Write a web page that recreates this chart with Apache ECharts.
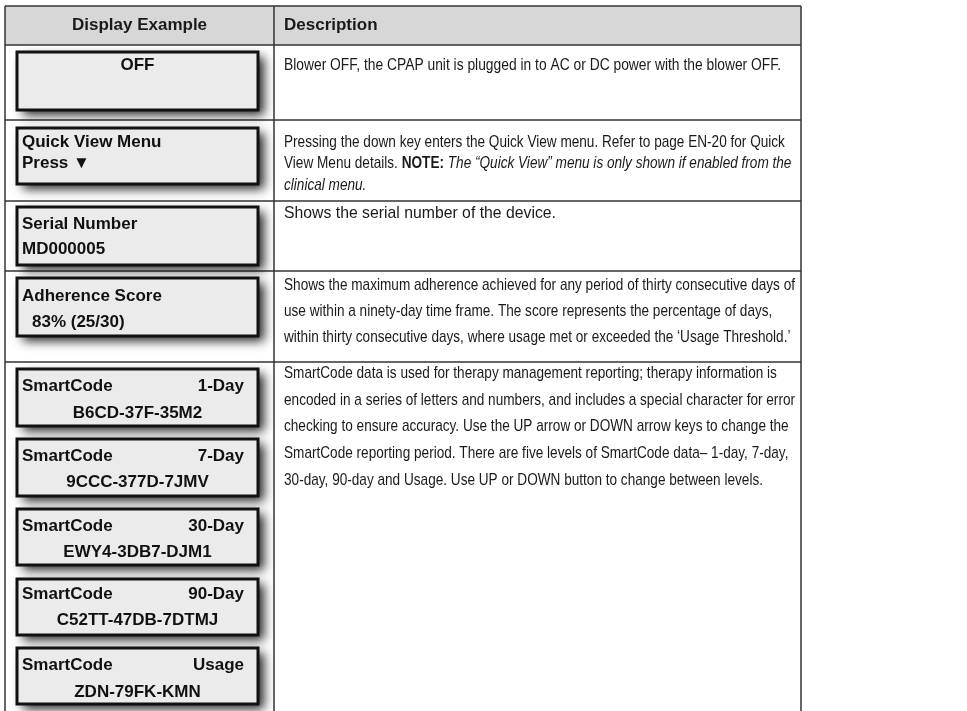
<!DOCTYPE html>
<html><head><meta charset="utf-8">
<script src="https://cdn.jsdelivr.net/npm/echarts@6/dist/echarts.min.js"></script>
<style>html,body{margin:0;padding:0;background:#fff}#c{width:967px;height:711px}</style>
</head><body><div id="c"></div><script>
// ---- data ----
const headers = ['Display Example', 'Description'];
const displayTitle = ['OFF', 'Quick View Menu', 'Serial Number', 'Adherence Score', 'SmartCode', 'SmartCode', 'SmartCode', 'SmartCode', 'SmartCode'];
const displayPeriod = ['', '', '', '', '1-Day', '7-Day', '30-Day', '90-Day', 'Usage'];
const displayValue = ['', 'Press \u25BC', 'MD000005', '83% (25/30)', 'B6CD-37F-35M2', '9CCC-377D-7JMV', 'EWY4-3DB7-DJM1', 'C52TT-47DB-7DTMJ', 'ZDN-79FK-KMN'];
const descriptionLines = [
  ['Blower OFF, the CPAP unit is plugged in to AC or DC power with the blower OFF.'],
  ['Pressing the down key enters the Quick View menu. Refer to page EN-20 for Quick',
   'View Menu details. {b|NOTE:} {i|The \u201CQuick View\u201D menu is only shown if enabled from the}',
   '{i|clinical menu.}'],
  ['Shows the serial number of the device.'],
  ['Shows the maximum adherence achieved for any period of thirty consecutive days of',
   'use within a ninety-day time frame. The score represents the percentage of days,',
   'within thirty consecutive days, where usage met or exceeded the \u2018Usage Threshold.\u2019'],
  ['SmartCode data is used for therapy management reporting; therapy information is',
   'encoded in a series of letters and numbers, and includes a special character for error',
   'checking to ensure accuracy. Use the UP arrow or DOWN arrow keys to change the',
   'SmartCode reporting period. There are five levels of SmartCode data\u2013 1-day, 7-day,',
   '30-day, 90-day and Usage. Use UP or DOWN button to change between levels.']
];

// ---- layout ----
const T = {left: 5, right: 801, divX: 274, top: 6, headBottom: 45, rowBottoms: [120, 201, 271, 362], bottom: 711};
const box = {x0: 17, x1: 258, textL: 22, textR: 244};
const boxTops = [52, 128, 207, 278, 369, 439, 509, 579, 648];
const boxBottoms = [110, 184, 265, 336, 426, 496, 565, 635, 704];
const boxLine1Y = [65, 142, 224, 296, 386, 456, 526, 594, 665];
const boxLine2Y = [null, 163, 249, 322, 413, 482, 552, 620, 692];
const valueAlign = ['left', 'left', 'left', 'indent', 'center', 'center', 'center', 'center', 'center'];
const descY = [[65], [142, 163, 185], [213], [285, 311, 337], [373, 400, 426, 453, 480]];
const descX = 284;
const singleLineEnd = {0: 781, 2: 556};

const FAM = '"Liberation Sans", Arial, Helvetica, sans-serif';
const DESC_SIZE = 17;
const ctx = document.createElement('canvas').getContext('2d');
ctx.font = DESC_SIZE + 'px ' + FAM;
const descScale = 511 / ctx.measureText(descriptionLines[3][0]).width;

const els = [];
els.push({type: 'rect', shape: {x: T.left, y: T.top, width: T.right - T.left, height: T.headBottom - T.top}, style: {fill: '#d7d7d7'}, z: 1});
const lineStyle = {stroke: '#333', lineWidth: 1.5};
function hline(y) { els.push({type: 'line', shape: {x1: T.left, y1: y, x2: T.right, y2: y}, style: lineStyle, z: 2}); }
function vline(x) { els.push({type: 'line', shape: {x1: x, y1: T.top, x2: x, y2: T.bottom}, style: lineStyle, z: 2}); }
hline(T.top); hline(T.headBottom); T.rowBottoms.forEach(hline);
vline(T.left); vline(T.divX); vline(T.right);

els.push({type: 'text', x: (T.left + T.divX) / 2, y: (T.top + T.headBottom) / 2, z: 6,
  style: {text: headers[0], font: 'bold 17px ' + FAM, fill: '#1a1a1a', align: 'center', verticalAlign: 'middle'}});
els.push({type: 'text', x: descX, y: (T.top + T.headBottom) / 2, z: 6,
  style: {text: headers[1], font: 'bold 17px ' + FAM, fill: '#1a1a1a', align: 'left', verticalAlign: 'middle'}});

const BOXFONT = 'bold 17px ' + FAM;
displayTitle.forEach((t, i) => {
  const shape = {x: box.x0, y: boxTops[i], width: box.x1 - box.x0, height: boxBottoms[i] - boxTops[i]};
  els.push({type: 'rect', z: 3, shape: shape,
    style: {fill: '#111', shadowBlur: 10, shadowColor: 'rgba(0,0,0,0.85)', shadowOffsetX: 6, shadowOffsetY: 5}});
  els.push({type: 'rect', z: 4, shape: shape, style: {fill: '#ebebeb', stroke: '#111', lineWidth: 3}});
  const centerX = (box.x0 + box.x1) / 2;
  if (!displayValue[i]) {
    els.push({type: 'text', x: centerX, y: boxLine1Y[i], z: 6, style: {text: t, font: BOXFONT, fill: '#111', align: 'center', verticalAlign: 'middle'}});
  } else {
    els.push({type: 'text', x: box.textL, y: boxLine1Y[i], z: 6, style: {text: t, font: BOXFONT, fill: '#111', align: 'left', verticalAlign: 'middle'}});
    if (displayPeriod[i]) {
      els.push({type: 'text', x: box.textR, y: boxLine1Y[i], z: 6, style: {text: displayPeriod[i], font: BOXFONT, fill: '#111', align: 'right', verticalAlign: 'middle'}});
    }
    const a = valueAlign[i];
    const vx = a === 'center' ? centerX : (a === 'indent' ? box.textL + 10 : box.textL);
    els.push({type: 'text', x: vx, y: boxLine2Y[i], z: 6, style: {text: displayValue[i], font: BOXFONT, fill: '#111', align: a === 'center' ? 'center' : 'left', verticalAlign: 'middle'}});
  }
});

descriptionLines.forEach((lines, r) => {
  lines.forEach((ln, k) => {
    let sc = descScale;
    if (lines.length === 1 && singleLineEnd[r]) sc = (singleLineEnd[r] - descX) / ctx.measureText(ln).width;
    els.push({type: 'text', x: descX, y: descY[r][k], scaleX: sc, z: 6,
      style: {text: ln, fontSize: DESC_SIZE, fontFamily: FAM, fill: '#1a1a1a', align: 'left', verticalAlign: 'middle',
        rich: {
          b: {fontSize: DESC_SIZE, fontFamily: FAM, fontWeight: 'bold', fill: '#1a1a1a'},
          i: {fontSize: DESC_SIZE, fontFamily: FAM, fontStyle: 'italic', fill: '#1a1a1a'}
        }}});
  });
});

const chart = echarts.init(document.getElementById('c'), null, {renderer: 'canvas'});
chart.setOption({backgroundColor: '#ffffff', animation: false, graphic: {elements: els}});
</script></body></html>
